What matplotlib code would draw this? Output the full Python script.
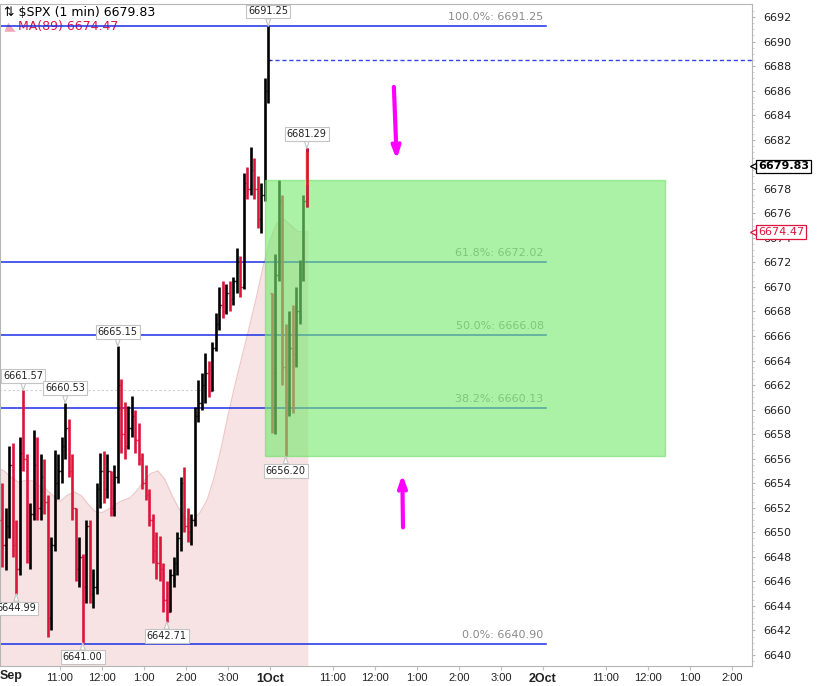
import matplotlib.pyplot as plt
import matplotlib.transforms as mtransforms
from matplotlib.patches import Rectangle, Polygon
import numpy as np

# $SPX 1-min chart summarised as 5-minute OHLC bars.
# x is minutes from 9:30 on 30 Sep, one session = 390 minutes (1 Oct starts at 390)
bar_minutes = 5

opens = [6653.0, 6651.0, 6649.0, 6650.5, 6655.5, 6649.0, 6647.0, 6656.5, 6656.0, 6648.5,
         6651.5, 6655.5, 6652.0, 6654.5, 6652.5, 6643.0, 6649.0, 6654.0, 6655.0, 6657.0,
         6658.5, 6655.0, 6652.0, 6647.0, 6648.0, 6645.5, 6650.5, 6645.0, 6645.5, 6653.5,
         6655.0, 6653.5, 6655.0, 6652.0, 6654.5, 6662.0, 6658.0, 6657.0, 6658.5, 6659.5,
         6657.5, 6656.0, 6654.0, 6653.0, 6651.0, 6648.5, 6647.5, 6647.0, 6644.5, 6643.5,
         6646.5, 6647.5, 6649.5, 6654.0, 6650.5, 6650.0, 6651.0, 6659.5, 6660.5, 6662.0,
         6663.0, 6661.5, 6665.0, 6667.0, 6668.5, 6668.0, 6669.5, 6669.0, 6670.5, 6672.0,
         6670.0, 6678.5, 6678.0, 6679.5, 6678.0, 6675.5, 6677.5, 6686.0, 6669.5, 6663.0,
         6671.0, 6677.0, 6663.5, 6660.5, 6665.0, 6664.5, 6668.0, 6671.5, 6677.0]
highs = [6655.7, 6654.0, 6652.0, 6657.0, 6657.3, 6651.0, 6657.8, 6661.57, 6656.4, 6652.4,
         6658.3, 6657.8, 6656.4, 6656.0, 6653.0, 6649.6, 6656.7, 6656.4, 6657.8, 6660.53,
         6659.2, 6656.4, 6652.0, 6649.6, 6648.2, 6651.0, 6651.0, 6647.0, 6654.0, 6656.5,
         6656.6, 6656.4, 6655.0, 6655.5, 6665.15, 6662.5, 6660.6, 6660.3, 6661.1, 6660.0,
         6658.9, 6656.5, 6655.5, 6653.5, 6651.5, 6650.0, 6649.7, 6647.5, 6646.0, 6647.0,
         6648.0, 6650.0, 6654.5, 6655.3, 6652.0, 6651.5, 6660.2, 6662.4, 6663.0, 6664.6,
         6664.0, 6665.5, 6667.9, 6670.0, 6670.5, 6670.2, 6670.5, 6670.8, 6673.2, 6672.5,
         6679.3, 6679.8, 6681.4, 6680.5, 6679.0, 6678.5, 6687.0, 6691.25, 6669.5, 6672.7,
         6678.7, 6677.5, 6667.0, 6668.0, 6668.5, 6670.0, 6672.2, 6677.5, 6681.29]
lows = [6648.0, 6647.2, 6646.9, 6649.5, 6648.0, 6644.99, 6646.5, 6655.0, 6647.5, 6647.0,
        6651.0, 6651.0, 6651.0, 6651.5, 6641.5, 6642.0, 6648.5, 6652.7, 6654.0, 6656.0,
        6654.5, 6651.0, 6646.0, 6645.5, 6641.0, 6644.2, 6644.2, 6643.8, 6645.0, 6652.0,
        6652.4, 6652.8, 6651.3, 6651.3, 6654.0, 6656.5, 6656.0, 6656.8, 6657.8, 6656.5,
        6655.5, 6653.5, 6652.6, 6650.5, 6647.5, 6646.2, 6646.0, 6643.5, 6642.71, 6643.5,
        6645.5, 6646.5, 6648.5, 6650.0, 6649.2, 6649.0, 6650.5, 6659.0, 6660.0, 6660.5,
        6661.0, 6661.5, 6664.8, 6666.5, 6667.5, 6667.8, 6668.0, 6668.5, 6669.5, 6669.2,
        6669.8, 6677.2, 6677.5, 6677.2, 6674.8, 6674.4, 6677.0, 6685.0, 6658.1, 6658.0,
        6670.5, 6662.0, 6656.20, 6659.5, 6659.7, 6663.5, 6667.0, 6670.5, 6676.5]
closes = [6651.0, 6649.0, 6650.5, 6655.5, 6649.0, 6647.0, 6656.5, 6656.0, 6648.5, 6651.5,
          6655.5, 6652.0, 6654.5, 6652.5, 6643.0, 6649.0, 6654.0, 6655.0, 6657.0, 6658.5,
          6655.0, 6652.0, 6647.0, 6648.0, 6645.5, 6650.5, 6645.0, 6645.5, 6653.5, 6655.0,
          6653.5, 6655.0, 6652.0, 6654.5, 6662.0, 6658.0, 6657.0, 6658.5, 6659.5, 6657.5,
          6656.0, 6654.0, 6653.0, 6651.0, 6648.5, 6647.5, 6647.0, 6644.5, 6643.5, 6646.5,
          6647.5, 6649.5, 6654.0, 6650.5, 6650.0, 6651.0, 6659.5, 6660.5, 6662.0, 6663.0,
          6661.5, 6665.0, 6667.0, 6668.5, 6668.0, 6669.5, 6669.0, 6670.5, 6672.0, 6670.0,
          6678.5, 6678.0, 6679.5, 6678.0, 6675.5, 6677.5, 6686.0, 6688.46, 6663.0, 6671.0,
          6677.0, 6663.5, 6660.5, 6665.0, 6664.5, 6668.0, 6671.5, 6677.0, 6679.83]

# MA(89), sampled every 10 minutes
ma_minutes = list(range(0, 440, 10)) + [444]
ma_values = [6655.3, 6655.0, 6654.5, 6654.1, 6654.2, 6654.2, 6653.8, 6653.5, 6653.0, 6652.5,
             6653.0, 6653.3, 6653.0, 6652.3, 6651.7, 6651.6, 6651.9, 6652.3, 6652.6, 6652.8,
             6653.4, 6654.2, 6654.8, 6655.0, 6654.3, 6653.0, 6651.9, 6651.1, 6651.0, 6651.6,
             6652.6, 6654.4, 6656.8, 6659.5, 6662.0, 6664.3, 6666.6, 6669.0, 6671.6, 6673.8,
             6675.2, 6675.5, 6675.0, 6674.5, 6674.47]

# fibonacci retracement
fib_pct = ['100.0%', '61.8%', '50.0%', '38.2%', '0.0%']
fib_vals = [6691.25, 6672.02, 6666.08, 6660.13, 6640.90]
fib_end = 784
prev_close = 6688.46
prev_close_start = 387
dotted_level = 6661.57
dotted_end = 311

# green zone
zone_t = [383, 954]
zone_vals = [6656.20, 6678.7]

# labelled highs / lows (bar index, above?)
tag_bars = [77, 88, 34, 7, 19, 82, 5, 48, 24]
tag_above = [True, True, True, True, True, False, False, False, False]

# magenta arrows (minute, from, to)
arrow_t = [[567, 571], [580, 579]]
arrow_vals = [[6686.3, 6680.4], [6650.4, 6654.7]]

tick_pos = [90, 150, 210, 270, 330, 390, 480, 540, 600, 660, 720, 780, 870, 930, 990, 1050]
tick_lab = ['11:00', '12:00', '1:00', '2:00', '3:00', '1Oct', '11:00', '12:00', '1:00', '2:00',
            '3:00', '2Oct', '11:00', '12:00', '1:00', '2:00']

last_price = 6679.83
ma_last = 6674.47

red = '#dc143c'
blue = '#1a2ee6'

fig = plt.figure(figsize=(8.2, 6.86), dpi=100)
ax = fig.add_axes([0, 20 / 686, 752 / 820, 662 / 686])
ax.set_xlim(4.3, 1078.6)
ax.set_ylim(6639.1, 6693.06)

# MA area
ax.fill_between(ma_minutes, 6630, ma_values, color='#f7e3e3', lw=0, zorder=1)
ax.plot(ma_minutes, ma_values, color='#efc8c8', lw=0.9, zorder=1.5)

# fib lines + labels
for p, v in zip(fib_pct, fib_vals):
    ax.plot([0, fib_end], [v, v], color=blue, lw=1.1, zorder=2)
    ax.text(fib_end - 3, v + 0.35, f'{p}: {v:.2f}', ha='right', va='bottom',
            fontsize=8, color='#8a8a8a', zorder=2)
ax.plot([prev_close_start, 1100], [prev_close, prev_close], color='#3344ee', lw=1,
        ls=(0, (3, 2)), zorder=2)
ax.plot([0, dotted_end], [dotted_level, dotted_level], color='#cfcfcf', lw=0.8,
        ls=(0, (2, 2)), zorder=1.6)

# OHLC bars
bar_t = np.arange(len(closes)) * bar_minutes + bar_minutes / 2
cols = ['black' if c >= o else red for o, c in zip(opens, closes)]
ax.vlines(bar_t, lows, highs, colors=cols, lw=1.9, zorder=3)
ax.hlines(opens, bar_t - 2.2, bar_t, colors=cols, lw=1, zorder=3)
ax.hlines(closes, bar_t, bar_t + 2.2, colors=cols, lw=1, zorder=3)

# last bar highlight
ax.add_patch(Rectangle((bar_t[-1] - 3, closes[-1] - 1.5), 6, highs[-1] - closes[-1] + 1.2,
                       color='#ffe45c', zorder=4.5, lw=0, alpha=0.8))
ax.vlines(bar_t[-1], lows[-1], highs[-1], colors=red, lw=1.9, zorder=4.6)

# green zone (drawn over the bars)
ax.add_patch(Rectangle((zone_t[0], zone_vals[0]), zone_t[1] - zone_t[0],
                       zone_vals[1] - zone_vals[0], fc='#78ea70', alpha=0.62,
                       ec='#6fe06a', lw=1, zorder=4))

# value tags
for b, up in zip(tag_bars, tag_above):
    v = highs[b] if up else lows[b]
    ax.annotate(f'{v:.2f}', xy=(bar_t[b], v), xytext=(0, 7 if up else -7),
                textcoords='offset points', ha='center', va='bottom' if up else 'top',
                fontsize=7, color='#222222',
                bbox=dict(boxstyle='square,pad=0.2', fc='white', ec='#c4c4c4', lw=0.8),
                arrowprops=dict(arrowstyle='wedge,tail_width=0.5', fc='white', ec='#c4c4c4',
                                lw=0.8, shrinkA=0, shrinkB=0),
                zorder=6, annotation_clip=False)

# arrows
for ts, vs in zip(arrow_t, arrow_vals):
    ax.annotate('', xy=(ts[1], vs[1]), xytext=(ts[0], vs[0]),
                arrowprops=dict(arrowstyle='->,head_length=0.7,head_width=0.25',
                                color='#ff00ff', lw=3, shrinkA=0, shrinkB=0), zorder=7)

# title block
ax.text(0.005, 0.997, '⇅ \\$SPX (1 min) 6679.83', transform=ax.transAxes, ha='left',
        va='top', fontsize=9, color='black', zorder=1.8)
ax.text(0.024, 0.9655, f'MA(89) {ma_last:.2f}', transform=ax.transAxes, ha='left',
        va='center', fontsize=9, color=red, zorder=1.8)
ax.add_patch(Polygon([[0.006, 0.958], [0.011, 0.972], [0.015, 0.966], [0.021, 0.958]],
                     closed=True, transform=ax.transAxes, fc='#f0a8b8', ec='none', zorder=1.8))

# axes styling
for s in ax.spines.values():
    s.set_color('#b5b5b5')
    s.set_linewidth(0.8)
ax.yaxis.tick_right()
ax.set_yticks(np.arange(6640, 6693, 2))
ax.set_yticks(np.arange(6639.5, 6693, 0.5), minor=True)
ax.tick_params(axis='y', which='major', labelsize=8, labelcolor='#222222', length=2,
               color='#b5b5b5', pad=6)
ax.tick_params(axis='y', which='minor', length=1.5, color='#c8c8c8')
ax.set_xticks(tick_pos)
ax.set_xticklabels(tick_lab)
ax.tick_params(axis='x', labelsize=8, length=3, color='#c0c0c0', pad=2, labelcolor='#222222')
for lab in ax.get_xticklabels():
    lab.set_fontfamily('Liberation Sans')
    if 'Oct' in lab.get_text():
        lab.set_fontweight('bold')
        lab.set_fontsize(9)
ax.text(0.0, -0.006, 'Sep', transform=ax.transAxes, ha='left', va='top', fontsize=9,
        fontweight='bold', family='Liberation Sans', color='#222222')

# right side price tags: box + small pointer on the axis
trans = mtransforms.blended_transform_factory(ax.transAxes, ax.transData)
for v, txt_col, edge, wt in [(last_price, 'black', 'black', 'bold'), (ma_last, red, red, 'normal')]:
    ax.text(1.008, v, f'{v:.2f}', transform=trans, ha='left', va='center',
            fontsize=8, fontweight=wt, color=txt_col, zorder=8,
            bbox=dict(boxstyle='square,pad=0.15', fc='white', ec=edge, lw=0.9))
    ax.plot([1.0015], [v], transform=trans, marker='<', ms=5, mfc='white', mec=edge,
            mew=0.9, clip_on=False, zorder=9)

fig.savefig('out.png', dpi=100)
